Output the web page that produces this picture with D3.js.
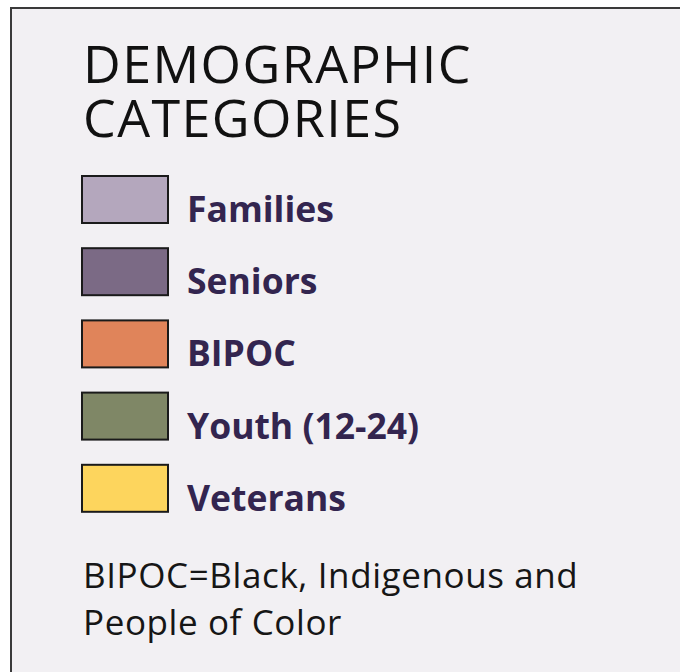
<!DOCTYPE html>
<html>
<head>
<meta charset="utf-8">
<script src="https://cdn.jsdelivr.net/npm/d3@7"></script>
<style>
  html, body { margin: 0; padding: 0; background: #ffffff; }
</style>
</head>
<body>
<div id="chart"></div>
<script>
var titleLines = ["DEMOGRAPHIC", "CATEGORIES"];
var categories = ["Families", "Seniors", "BIPOC", "Youth (12-24)", "Veterans"];
var swatchColors = ["#b4a7bd", "#7b6a85", "#e0845a", "#7f8766", "#fdd55d"];
var noteLines = ["BIPOC=Black, Indigenous and", "People of Color"];

var width = 680,
    height = 672;

var svg = d3.select("#chart")
  .append("svg")
    .attr("width", width)
    .attr("height", height);

// panel
svg.append("rect")
    .attr("x", 11)
    .attr("y", 8)
    .attr("width", width + 20)
    .attr("height", height + 20)
    .style("fill", "#f2f0f3")
    .style("stroke", "#3a3a3a")
    .style("stroke-width", 2);

var color = d3.scaleOrdinal()
    .domain(categories)
    .range(swatchColors);

var y = d3.scaleBand()
    .domain(categories)
    .range([175, 175 + 72.2 * categories.length])
    .paddingInner(0);

svg.selectAll(".title")
  .data(titleLines)
  .enter()
    .append("text")
    .attr("class", "title")
    .attr("x", 83)
    .attr("y", function(d, i) { return 83 + i * 54; })
    .style("font-family", "'Open Sans', sans-serif")
    .style("font-size", "52px")
    .style("letter-spacing", "1.4px")
    .style("fill", "#111111")
    .text(function(d) { return d; });

var rows = svg.selectAll(".row")
  .data(categories)
  .enter()
    .append("g")
    .attr("class", "row")
    .attr("transform", function(d) { return "translate(0," + y(d) + ")"; });

rows.append("rect")
    .attr("x", 82)
    .attr("y", 1)
    .attr("width", 86)
    .attr("height", 47)
    .style("fill", function(d) { return color(d); })
    .style("stroke", "#1a1a1a")
    .style("stroke-width", 2);

rows.append("text")
    .attr("x", 187)
    .attr("y", 47)
    .style("font-family", "'Open Sans', sans-serif")
    .style("font-weight", "bold")
    .style("font-size", "35.5px")
    .style("fill", "#33254f")
    .text(function(d) { return d; });

svg.selectAll(".note")
  .data(noteLines)
  .enter()
    .append("text")
    .attr("class", "note")
    .attr("x", 83)
    .attr("y", function(d, i) { return 588 + i * 47; })
    .style("font-family", "'Open Sans', sans-serif")
    .style("font-size", "35px")
    .style("letter-spacing", "0.6px")
    .style("fill", "#161616")
    .text(function(d) { return d; });
</script>
</body>
</html>
